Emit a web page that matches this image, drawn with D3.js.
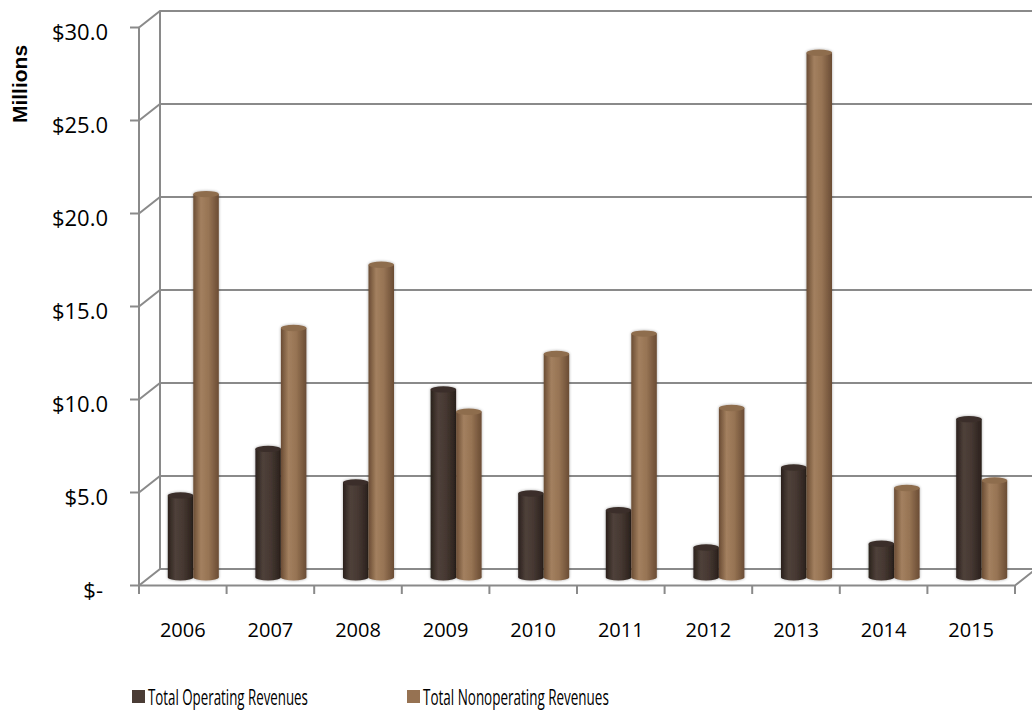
<!DOCTYPE html>
<html>
<head>
<meta charset="utf-8">
<script src="https://cdn.jsdelivr.net/npm/d3@7"></script>
<style>
  html, body { margin: 0; padding: 0; background: #fff; }
  svg { display: block; }
  text { font-family: "Open Sans", "Noto Sans", sans-serif; fill: #000; }
</style>
</head>
<body>
<svg id="chart" width="1032" height="712"></svg>
<script>
// Revenue by fiscal year, in millions of dollars
const years = ["2006", "2007", "2008", "2009", "2010", "2011", "2012", "2013", "2014", "2015"];
const operating = [4.4, 6.9, 5.1, 10.1, 4.5, 3.6, 1.6, 5.9, 1.8, 8.5];
const nonoperating = [20.6, 13.4, 16.8, 8.9, 12.0, 13.1, 9.1, 28.2, 4.8, 5.2];
const seriesNames = ["Total Operating Revenues", "Total Nonoperating Revenues"];
const yTicks = [0, 5, 10, 15, 20, 25, 30];

const svg = d3.select("#chart");

// Frame of the 3-D plot: front plane, and the depth offset to the back wall
const frontLeft = 139, frontRight = 1015;
const depth = { dx: 21, dy: -16.5 };

const x = d3.scaleBand().domain(years).range([frontLeft, frontRight]).paddingInner(0).paddingOuter(0);
const y = d3.scaleLinear().domain([0, 30]).range([585.5, 27.5]);

const gridColor = "#8a8a8a";

// Gradients for the cylinder shading
const defs = svg.append("defs");
function cylGradient(id, edge, mid, light) {
  const g = defs.append("linearGradient").attr("id", id).attr("x1", "0").attr("x2", "1").attr("y1", "0").attr("y2", "0");
  g.append("stop").attr("offset", "0%").attr("stop-color", edge);
  g.append("stop").attr("offset", "30%").attr("stop-color", light);
  g.append("stop").attr("offset", "60%").attr("stop-color", mid);
  g.append("stop").attr("offset", "100%").attr("stop-color", edge);
}
cylGradient("gOp", "#2a211c", "#463832", "#4f413a");
cylGradient("gNon", "#6a4c34", "#977454", "#a3805f");
defs.append("filter").attr("id", "soft").append("feGaussianBlur").attr("stdDeviation", 0.6);
const glow = defs.append("filter").attr("id", "shadow").attr("x", "-30%").attr("y", "-5%").attr("width", "160%").attr("height", "110%");
glow.append("feGaussianBlur").attr("in", "SourceAlpha").attr("stdDeviation", 1.4).attr("result", "b");
glow.append("feComponentTransfer").attr("in", "b").attr("result", "b2")
  .append("feFuncA").attr("type", "linear").attr("slope", 0.35);
const merge = glow.append("feMerge");
merge.append("feMergeNode").attr("in", "b2");
merge.append("feMergeNode").attr("in", "SourceGraphic");

// Back wall gridlines with their slanted side edge
const grid = svg.append("g").attr("fill", "none").attr("stroke", gridColor).attr("stroke-width", 2).attr("filter", "url(#soft)");
yTicks.forEach(v => {
  const yf = y(v), yb = y(v) + depth.dy;
  grid.append("path").attr("d",
    `M${frontLeft},${yf}L${frontLeft + depth.dx},${yb}L${1040},${yb}`);
});
// Back wall left edge
grid.append("line")
  .attr("x1", frontLeft + depth.dx).attr("x2", frontLeft + depth.dx)
  .attr("y1", y(0) + depth.dy).attr("y2", y(30) + depth.dy);
// Floor: front edge and right side edge
grid.append("path").attr("d",
  `M${frontLeft},${y(0)}L${frontRight},${y(0)}L${frontRight + depth.dx},${y(0) + depth.dy}`);

// Value axis line and ticks
const axis = svg.append("g").attr("stroke", gridColor).attr("stroke-width", 2).attr("filter", "url(#soft)");
axis.append("line").attr("x1", frontLeft).attr("x2", frontLeft).attr("y1", y(0)).attr("y2", y(30));
yTicks.forEach(v => {
  axis.append("line").attr("x1", frontLeft - 9).attr("x2", frontLeft).attr("y1", y(v)).attr("y2", y(v));
});
// Category ticks along the front of the floor
years.concat([null]).forEach((yr, i) => {
  const xx = yr === null ? frontRight : x(yr);
  axis.append("line").attr("x1", xx).attr("x2", xx).attr("y1", y(0)).attr("y2", y(0) + 8.5);
});

// Value labels
const fmt = v => v === 0 ? "$-" : "$" + d3.format(".1f")(v);
svg.append("g").selectAll("text").data(yTicks).join("text")
  .attr("x", v => v === 0 ? 103 : 108)
  .attr("y", v => y(v) + 5)
  .attr("dy", "0.35em")
  .attr("text-anchor", "end")
  .style("font-size", "22px")
  .text(fmt);

// Category labels
svg.append("g").selectAll("text").data(years).join("text")
  .attr("x", d => x(d) + x.bandwidth() / 2)
  .attr("y", 630)
  .attr("dy", "0.35em")
  .attr("text-anchor", "middle")
  .style("font-size", "20px")
  .text(d => d);

// Axis title
svg.append("text")
  .attr("transform", "translate(20,84) rotate(-90)")
  .attr("text-anchor", "middle")
  .attr("dy", "0.35em")
  .style("font-family", "'Liberation Sans', Arial, sans-serif")
  .style("font-weight", "bold")
  .style("font-size", "21px")
  .text("Millions");

// Cylinders, placed at mid-depth of the floor
const barW = 25.5, ry = 3.2;
const midDx = depth.dx / 2, midDy = depth.dy / 2;
const yMid = v => y(v) + midDy;
const bars = svg.append("g");
const series = [
  { values: operating, fill: "url(#gOp)", top: "#3b2f2a", offset: -1 },
  { values: nonoperating, fill: "url(#gNon)", top: "#8e6d4e", offset: 0 }
];
years.forEach((yr, i) => {
  const cx = x(yr) + x.bandwidth() / 2 + midDx;
  series.forEach(s => {
    const v = s.values[i];
    const left = cx + s.offset * barW;
    const cxx = left + barW / 2;
    const g = bars.append("g").attr("filter", "url(#shadow)");
    g.append("ellipse").attr("cx", cxx).attr("cy", yMid(0)).attr("rx", barW / 2).attr("ry", ry).attr("fill", s.fill);
    g.append("rect").attr("x", left).attr("y", yMid(v)).attr("width", barW).attr("height", yMid(0) - yMid(v)).attr("fill", s.fill);
    g.append("ellipse").attr("cx", cxx).attr("cy", yMid(v)).attr("rx", barW / 2).attr("ry", ry).attr("fill", s.top);
  });
});

// Legend: narrow text, squeezed horizontally to the label width
const legendItems = [
  { name: seriesNames[0], color: "#4a3c35", x: 132, len: 160 },
  { name: seriesNames[1], color: "#967252", x: 407, len: 186 }
];
const lg = svg.append("g");
legendItems.forEach(d => {
  lg.append("rect").attr("x", d.x).attr("y", 690).attr("width", 13).attr("height", 13).attr("fill", d.color);
  const t = lg.append("text").attr("x", 0).attr("y", 0).attr("dy", "0.36em")
    .style("font-size", "22px")
    .text(d.name);
  const w = t.node().getComputedTextLength();
  t.attr("transform", `translate(${d.x + 16},697) scale(${d.len / w},1)`);
});
</script>
</body>
</html>
